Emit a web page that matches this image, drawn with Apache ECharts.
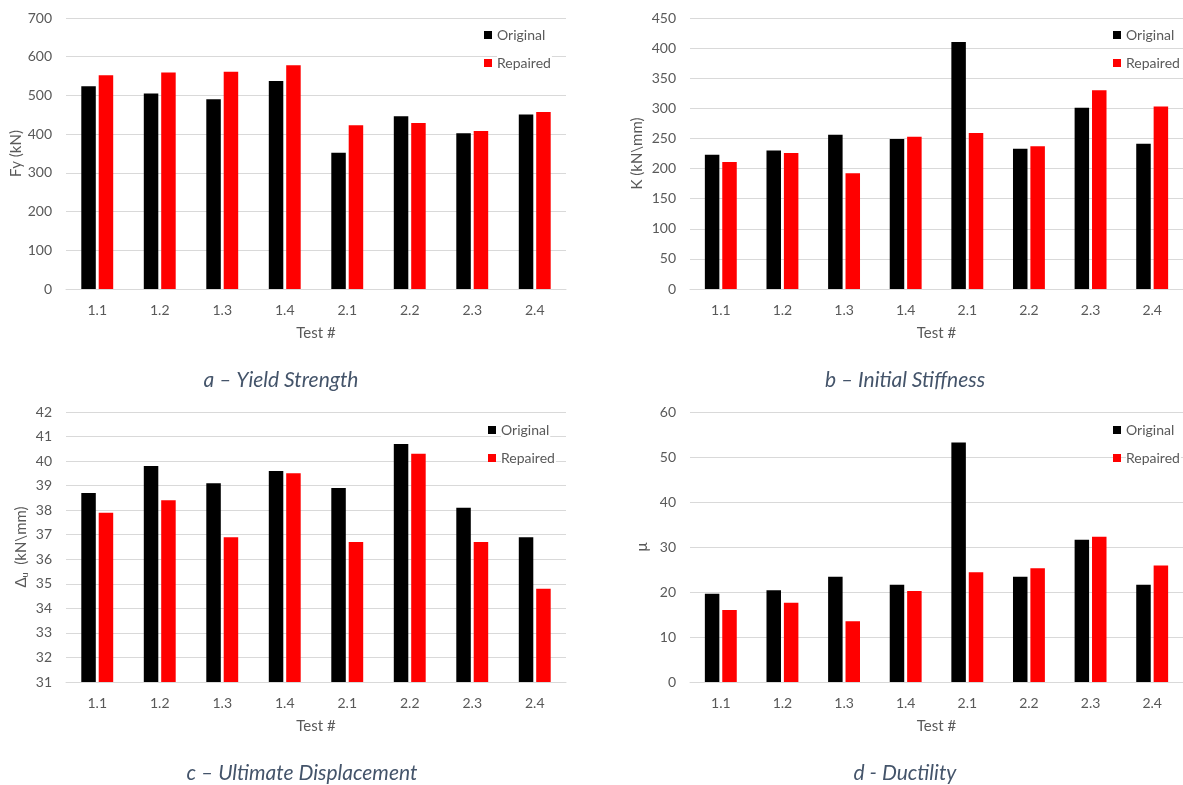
<!DOCTYPE html>
<html>
<head>
<meta charset="utf-8">
<script src="https://cdn.jsdelivr.net/npm/echarts@6/dist/echarts.min.js"></script>
<style>html,body{margin:0;padding:0;background:#fff;}#c{width:1183px;height:785px;}</style>
</head>
<body>
<div id="c"></div>
<script>
const categories = ['1.1','1.2','1.3','1.4','2.1','2.2','2.3','2.4'];
const seriesNames = ['Original','Repaired'];

const fyOriginal = [524, 505, 490, 537, 352, 446, 402, 451];
const fyRepaired = [552, 559, 561, 578, 423, 429, 408, 457];

const kOriginal = [223, 230, 256, 249, 410, 233, 301, 241];
const kRepaired = [211, 226, 192, 253, 259, 237, 330, 303];

const duOriginal = [38.7, 39.8, 39.1, 39.6, 38.9, 40.7, 38.1, 36.9];
const duRepaired = [37.9, 38.4, 36.9, 39.5, 36.7, 40.3, 36.7, 34.8];

const muOriginal = [19.6, 20.4, 23.4, 21.6, 53.2, 23.4, 31.6, 21.6];
const muRepaired = [16.0, 17.6, 13.5, 20.2, 24.4, 25.3, 32.3, 25.9];

const yTicksA = {min: 0, max: 700, interval: 100};
const yTicksB = {min: 0, max: 450, interval: 50};
const yTicksC = {min: 31, max: 42, interval: 1};
const yTicksD = {min: 0, max: 60, interval: 10};

const captions = ['a – Yield Strength', 'b – Initial Stiffness', 'c – Ultimate Displacement', 'd - Ductility'];
const yNames = ['Fy (kN)', 'K (kN\\mm)', '{d|Δ}{s|u}{d|  (kN\\mm)}', 'μ'];
const xName = 'Test #';

const FONT = 'Lato, "Open Sans", sans-serif';
const TXT = '#595959';
const GRIDC = '#D9D9D9';

const grids = [
  {left: 66, top: 18, width: 500, height: 271},
  {left: 690, top: 18, width: 502, height: 271},
  {left: 66, top: 412, width: 500, height: 270},
  {left: 690, top: 412, width: 502, height: 270}
];
const ticks = [yTicksA, yTicksB, yTicksC, yTicksD];
const nameGaps = [41, 45, 36, 40];
const data = [[fyOriginal, fyRepaired],[kOriginal, kRepaired],[duOriginal, duRepaired],[muOriginal, muRepaired]];
const legendPos = [[484, 27],[1113, 27],[488, 422],[1113, 422]];
const captionPos = [[281, 370],[905, 370],[302, 763],[905, 763]];

const option = {
  backgroundColor: '#fff',
  animation: false,
  grid: grids.map(g => Object.assign({containLabel: false}, g)),
  xAxis: grids.map((g, i) => ({
    type: 'category', gridIndex: i, data: categories,
    axisLine: {show: true, lineStyle: {color: GRIDC, width: 1}},
    axisTick: {show: false},
    axisLabel: {color: TXT, fontFamily: FONT, fontSize: 14, margin: 14},
    name: xName, nameLocation: 'middle', nameGap: 37,
    nameTextStyle: {color: TXT, fontFamily: FONT, fontSize: 15}
  })),
  yAxis: grids.map((g, i) => ({
    type: 'value', gridIndex: i,
    min: ticks[i].min, max: ticks[i].max, interval: ticks[i].interval,
    axisLine: {show: false}, axisTick: {show: false},
    splitLine: {show: true, lineStyle: {color: GRIDC, width: 1}},
    axisLabel: {color: TXT, fontFamily: FONT, fontSize: 14, margin: 14},
    name: yNames[i], nameLocation: 'middle', nameGap: nameGaps[i],
    nameTextStyle: {color: TXT, fontFamily: FONT, fontSize: 15,
      rich: {d: {color: TXT, fontFamily: FONT, fontSize: 15}, s: {color: TXT, fontFamily: FONT, fontSize: 9, verticalAlign: 'bottom', padding: [8,0,0,0]}}}
  })),
  legend: grids.map((g, i) => ({
    data: seriesNames, orient: 'vertical', left: legendPos[i][0], top: legendPos[i][1],
    icon: 'rect', itemWidth: 8, itemHeight: 8, itemGap: 12, padding: 0,
    textStyle: {color: TXT, fontFamily: FONT, fontSize: 14, lineHeight: 16, backgroundColor: '#fff', padding: [0, 1, 0, 0]},
    selectedMode: false
  })),
  title: captions.map((t, i) => ({
    text: t, left: captionPos[i][0], top: captionPos[i][1], textAlign: 'center', padding: 0,
    textStyle: {color: '#44546A', fontFamily: FONT, fontSize: 21, fontStyle: 'italic', fontWeight: 'normal'}
  })),
  series: []
};

data.forEach((pair, i) => {
  pair.forEach((vals, j) => {
    option.series.push({
      type: 'bar', name: seriesNames[j], xAxisIndex: i, yAxisIndex: i,
      data: vals, barWidth: 14.5, barGap: '20%',
      itemStyle: {color: j === 0 ? '#000000' : '#FF0000'}
    });
  });
});

const chart = echarts.init(document.getElementById('c'), null, {renderer: 'canvas'});
chart.setOption(option);
</script>
</body>
</html>
